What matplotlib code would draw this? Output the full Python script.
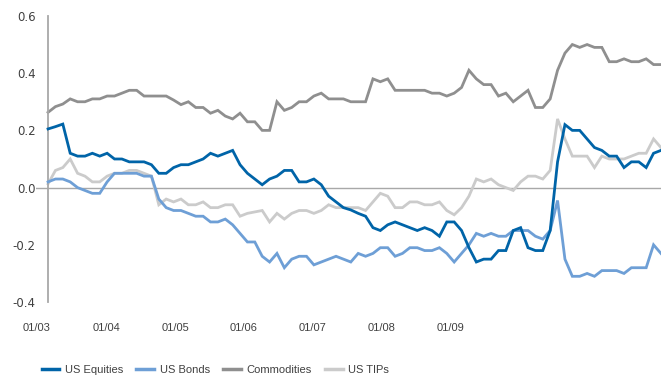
import numpy as np
import matplotlib
matplotlib.use("Agg")
import matplotlib.pyplot as plt

# rolling correlations, monthly 01/03 .. 12/09
us_equities = [0.205, 0.213, 0.222, 0.12, 0.11, 0.11, 0.12, 0.11, 0.12, 0.10,
               0.10, 0.09, 0.09, 0.09, 0.08, 0.05, 0.05, 0.07, 0.08, 0.08,
               0.09, 0.10, 0.12, 0.11, 0.12, 0.13, 0.08, 0.05, 0.03, 0.01,
               0.03, 0.04, 0.06, 0.06, 0.02, 0.02, 0.03, 0.01, -0.03, -0.05,
               -0.07, -0.078, -0.09, -0.10, -0.14, -0.15, -0.13, -0.12, -0.13, -0.14,
               -0.15, -0.14, -0.15, -0.17, -0.12, -0.12, -0.15, -0.21, -0.26, -0.25,
               -0.25, -0.22, -0.22, -0.15, -0.14, -0.21, -0.22, -0.22, -0.15, 0.09,
               0.22, 0.20, 0.20, 0.17, 0.14, 0.13, 0.11, 0.11, 0.07, 0.09,
               0.09, 0.07, 0.12, 0.13]
us_bonds = [0.02, 0.03, 0.03, 0.02, 0.00, -0.01, -0.02, -0.02, 0.02, 0.05,
            0.05, 0.05, 0.05, 0.04, 0.04, -0.04, -0.07, -0.08, -0.08, -0.09,
            -0.10, -0.10, -0.12, -0.12, -0.11, -0.13, -0.16, -0.19, -0.19, -0.24,
            -0.26, -0.23, -0.28, -0.25, -0.24, -0.24, -0.27, -0.26, -0.25, -0.24,
            -0.25, -0.26, -0.23, -0.24, -0.23, -0.21, -0.21, -0.24, -0.23, -0.21,
            -0.21, -0.22, -0.22, -0.21, -0.23, -0.26, -0.23, -0.20, -0.16, -0.17,
            -0.16, -0.17, -0.17, -0.15, -0.15, -0.15, -0.17, -0.18, -0.15, -0.045,
            -0.25, -0.31, -0.31, -0.30, -0.31, -0.29, -0.29, -0.29, -0.30, -0.28,
            -0.28, -0.28, -0.20, -0.23]
commodities = [0.263, 0.283, 0.292, 0.31, 0.30, 0.30, 0.31, 0.31, 0.32, 0.32,
               0.33, 0.34, 0.34, 0.32, 0.32, 0.32, 0.32, 0.306, 0.29, 0.30,
               0.28, 0.28, 0.26, 0.27, 0.25, 0.24, 0.26, 0.23, 0.23, 0.20,
               0.20, 0.30, 0.27, 0.28, 0.30, 0.30, 0.32, 0.33, 0.31, 0.31,
               0.31, 0.30, 0.30, 0.30, 0.38, 0.37, 0.38, 0.34, 0.34, 0.34,
               0.34, 0.34, 0.33, 0.33, 0.32, 0.33, 0.35, 0.41, 0.38, 0.36,
               0.36, 0.32, 0.33, 0.30, 0.32, 0.34, 0.28, 0.28, 0.31, 0.41,
               0.47, 0.50, 0.49, 0.50, 0.49, 0.49, 0.44, 0.44, 0.45, 0.44,
               0.44, 0.45, 0.43, 0.43]
us_tips = [0.013, 0.06, 0.07, 0.10, 0.05, 0.04, 0.02, 0.02, 0.04, 0.05,
           0.05, 0.06, 0.06, 0.05, 0.04, -0.06, -0.04, -0.05, -0.04, -0.06,
           -0.06, -0.05, -0.07, -0.07, -0.06, -0.06, -0.10, -0.09, -0.085, -0.08,
           -0.12, -0.09, -0.11, -0.09, -0.08, -0.08, -0.09, -0.08, -0.06, -0.07,
           -0.07, -0.07, -0.07, -0.08, -0.05, -0.02, -0.03, -0.07, -0.07, -0.05,
           -0.05, -0.06, -0.06, -0.05, -0.08, -0.095, -0.07, -0.03, 0.03, 0.02,
           0.03, 0.01, 0.00, -0.01, 0.02, 0.04, 0.04, 0.03, 0.06, 0.24,
           0.17, 0.11, 0.11, 0.11, 0.07, 0.11, 0.10, 0.10, 0.10, 0.11,
           0.12, 0.12, 0.17, 0.14]

tick_labels = ['01/03', '01/04', '01/05', '01/06', '01/07', '01/08', '01/09']
y_ticks = [-0.4, -0.2, 0.0, 0.2, 0.4, 0.6]

series = [
    ('US Equities', us_equities, '#0064a8', 4),
    ('US Bonds', us_bonds, '#6e9fd6', 3),
    ('Commodities', commodities, '#8f8f8f', 2),
    ('US TIPs', us_tips, '#cbcbcb', 1),
]

x = np.arange(len(us_equities))

fig = plt.figure(figsize=(6.71, 3.79), dpi=100)
ax = fig.add_axes([0.054, 0.203, 0.931, 0.755])

handles = []
for name, vals, color, z in series:
    line, = ax.plot(x, vals, color=color, linewidth=2.0, label=name,
                    zorder=z, solid_joinstyle='miter')
    handles.append(line)

ax.axhline(0, color='#a8a8a8', linewidth=1.0, zorder=0.5)

ax.set_xlim(-1.6, len(x) - 1)
ax.set_ylim(-0.4, 0.6)

for side in ['top', 'right', 'bottom']:
    ax.spines[side].set_visible(False)
ax.spines['left'].set_position(('data', 0))
ax.spines['left'].set_color('#a8a8a8')
ax.spines['left'].set_linewidth(1.3)

ax.set_yticks(y_ticks)
ax.set_yticklabels(['%.1f' % v for v in y_ticks], fontsize=8.5,
                   color='#404040', family='DejaVu Sans')
ax.tick_params(axis='y', length=0, pad=9)

# category labels sit on a slightly tighter spacing than the monthly points
tick_pos = (np.arange(len(tick_labels)) * 69 - 11) / 7.386
ax.set_xticks(tick_pos)
ax.set_xticklabels(tick_labels, fontsize=8, color='#404040',
                   family='Liberation Sans')
ax.tick_params(axis='x', length=0, pad=15)

leg = fig.legend(handles=handles, loc='center left',
                 bbox_to_anchor=(0.047, 0.024), ncol=4, frameon=False,
                 handlelength=1.6, handletextpad=0.5, columnspacing=1.2,
                 prop={'family': 'Liberation Sans', 'size': 8})
for t in leg.get_texts():
    t.set_color('#404040')
for h in leg.get_lines():
    h.set_linewidth(2.5)

fig.savefig('out.png', dpi=100)
